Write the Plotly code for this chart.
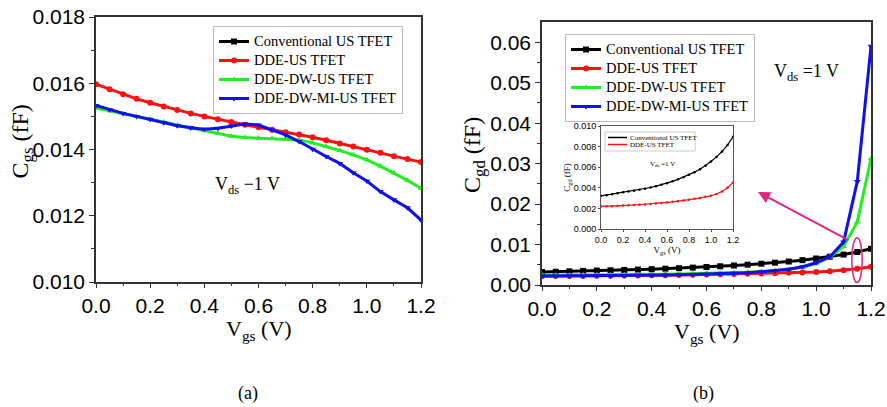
import plotly.graph_objects as go

# ---------------- data ----------------
vgs = [round(0.05 * i, 2) for i in range(25)]

names = ["Conventional US TFET", "DDE-US TFET", "DDE-DW-US TFET", "DDE-DW-MI-US TFET"]

# Panel (a): Cgs (fF)
cgs_dde = [0.01597, 0.01582, 0.01567, 0.01553, 0.01541, 0.01530, 0.01519, 0.01509, 0.01500,
           0.01491, 0.01483, 0.01475, 0.01467, 0.01460, 0.01452, 0.01445, 0.01437, 0.01428,
           0.01418, 0.01409, 0.01399, 0.01390, 0.01380, 0.01371, 0.01362]
cgs_ddedw = [0.01525, 0.01517, 0.01509, 0.01500, 0.01492, 0.01483, 0.01474, 0.01465, 0.01457,
             0.01448, 0.01440, 0.01436, 0.01434, 0.01433, 0.01432, 0.01429, 0.01420, 0.01409,
             0.01397, 0.01384, 0.01369, 0.01350, 0.01329, 0.01307, 0.01282]
cgs_ddedwmi = [0.01533, 0.01520, 0.01509, 0.01500, 0.01491, 0.01481, 0.01472, 0.01466, 0.01461,
               0.01464, 0.01471, 0.01477, 0.01474, 0.01460, 0.01444, 0.01424, 0.01401, 0.01379,
               0.01358, 0.01330, 0.01305, 0.01273, 0.01248, 0.01224, 0.01187]

# Panel (b): Cgd (fF)
cgd_conv = [0.00322, 0.00328, 0.00338, 0.00348, 0.00357, 0.00364, 0.00372, 0.00381, 0.00391,
            0.00403, 0.00416, 0.00430, 0.00445, 0.00463, 0.00482, 0.00503, 0.00526, 0.00552,
            0.00580, 0.00614, 0.00655, 0.00700, 0.00752, 0.00815, 0.00895]
cgd_dde = [0.00219, 0.00220, 0.00222, 0.00224, 0.00227, 0.00230, 0.00233, 0.00236, 0.00239,
           0.00243, 0.00247, 0.00252, 0.00258, 0.00264, 0.00270, 0.00277, 0.00285, 0.00293,
           0.00302, 0.00312, 0.00323, 0.00340, 0.00365, 0.00400, 0.00452]
cgd_ddedw = [0.00240, 0.00241, 0.00243, 0.00245, 0.00247, 0.00250, 0.00253, 0.00256, 0.00260,
             0.00264, 0.00269, 0.00275, 0.00282, 0.00291, 0.00302, 0.00316, 0.00334, 0.00357,
             0.00389, 0.00440, 0.00530, 0.00690, 0.00950, 0.01560, 0.03120]
cgd_ddedwmi = [0.00220, 0.00221, 0.00223, 0.00225, 0.00228, 0.00231, 0.00234, 0.00238, 0.00242,
               0.00247, 0.00253, 0.00260, 0.00268, 0.00278, 0.00290, 0.00305, 0.00325, 0.00352,
               0.00390, 0.00450, 0.00550, 0.00700, 0.01060, 0.02560, 0.05900]

colors = ["#000000", "#ff1010", "#22ee22", "#1010ee"]
symbols = ["square", "circle", "triangle-up", "triangle-down"]

SERIF = "Liberation Serif, Times New Roman, serif"
SANS = "Liberation Sans, Arial, sans-serif"

def legend_name(n):
    return ('<span style="font-size:14.5px;font-family:Liberation Serif,Times New Roman,serif">'
            + n + '</span>')

fig = go.Figure()

# ---- panel (a) ----
series_a = [None, cgs_dde, cgs_ddedw, cgs_ddedwmi]
for i, ys in enumerate(series_a):
    fig.add_trace(go.Scatter(
        x=vgs if ys is not None else [None], y=ys if ys is not None else [None],
        mode="lines+markers", name=legend_name(names[i]),
        line=dict(color=colors[i], width=3),
        marker=dict(symbol=symbols[i], size=6, color=colors[i]),
        xaxis="x", yaxis="y", legend="legend"))

# ---- panel (b) ----
series_b = [cgd_conv, cgd_dde, cgd_ddedw, cgd_ddedwmi]
for i, ys in enumerate(series_b):
    fig.add_trace(go.Scatter(
        x=vgs, y=ys, mode="lines+markers", name=legend_name(names[i]),
        line=dict(color=colors[i], width=3),
        marker=dict(symbol=symbols[i], size=6, color=colors[i]),
        xaxis="x2", yaxis="y2", legend="legend2"))

# ---- inset ----
for i, ys in enumerate(series_b[:2]):
    fig.add_trace(go.Scatter(
        x=vgs, y=ys, mode="lines+markers", name=names[i], showlegend=False,
        line=dict(color=colors[i], width=1.2),
        marker=dict(symbol="circle", size=2.5, color=colors[i]),
        xaxis="x3", yaxis="y3"))

W, H = 887, 407
def px(x): return x / W
def py(y): return 1 - y / H

axis_common = dict(showline=True, linecolor="#333", linewidth=1.5, mirror=True,
                   ticks="outside", ticklen=5, tickwidth=1.2, tickcolor="#333",
                   showgrid=False, zeroline=False, automargin=False,
                   tickfont=dict(family=SANS, size=21, color="#000"))

fig.update_layout(
    width=W, height=H, margin=dict(l=0, r=0, t=0, b=0),
    paper_bgcolor="white", plot_bgcolor="white", showlegend=True,
    xaxis=dict(axis_common, domain=[px(96), px(421)], range=[0, 1.2], dtick=0.2,
               tickformat=".1f", anchor="y", ticklen=4,
               minor=dict(ticks="outside", ticklen=2, dtick=0.1, tickcolor="#333")),
    yaxis=dict(axis_common, domain=[py(282), py(17)], range=[0.010, 0.018], dtick=0.002,
               tickformat=".3f", anchor="x",
               minor=dict(ticks="outside", ticklen=3, dtick=0.001, tickcolor="#333")),
    xaxis2=dict(axis_common, domain=[px(542), px(871)], range=[0, 1.2], dtick=0.2,
                tickformat=".1f", anchor="y2", ticklen=4,
                minor=dict(ticks="outside", ticklen=2, dtick=0.1, tickcolor="#333")),
    yaxis2=dict(axis_common, domain=[py(285), py(22)], range=[0, 0.065],
                tickvals=[0, 0.01, 0.02, 0.03, 0.04, 0.05, 0.06],
                tickformat=".2f", anchor="x2",
                minor=dict(ticks="outside", ticklen=3, tickvals=[0.005, 0.015, 0.025, 0.035, 0.045, 0.055],
                           tickcolor="#333")),
    xaxis3=dict(showline=True, linecolor="#555", linewidth=1, mirror=True, ticks="outside",
                ticklen=2, showgrid=False, zeroline=False, automargin=False,
                domain=[px(601), px(733)],
                range=[0, 1.2], dtick=0.2, tickformat=".1f", anchor="y3",
                tickfont=dict(family=SANS, size=9, color="#000"),
                title=dict(text="V<sub>gs</sub> (V)", font=dict(family=SERIF, size=9, color="#000"), standoff=1)),
    yaxis3=dict(showline=True, linecolor="#555", linewidth=1, mirror=True, ticks="outside",
                ticklen=2, showgrid=False, zeroline=False, automargin=False,
                domain=[py(229), py(126)],
                range=[0, 0.010], dtick=0.002, tickformat=".3f", anchor="x3",
                tickfont=dict(family=SANS, size=9, color="#000"),
                title=dict(text="C<sub>gd</sub> (fF)", font=dict(family=SERIF, size=9, color="#000"), standoff=1)),
    legend=dict(x=px(213), y=py(26), xanchor="left", yanchor="top",
                bgcolor="white", bordercolor="#bbb", borderwidth=1,
                font=dict(family=SERIF, size=11.5, color="#000"), tracegroupgap=0,
                itemwidth=30),
    legend2=dict(x=px(565), y=py(34), xanchor="left", yanchor="top",
                 bgcolor="white", bordercolor="#bbb", borderwidth=1,
                 font=dict(family=SERIF, size=11.5, color="#000"), tracegroupgap=0,
                 itemwidth=30),
)

# axis titles of the main panels (placed precisely)
title_font = dict(family=SERIF, size=22, color="#000")
fig.add_annotation(x=px(258.5), y=py(314), xref="paper", yref="paper", text="V<sub>gs</sub> (V)",
                   showarrow=False, xanchor="center", yanchor="top", font=title_font)
fig.add_annotation(x=px(706.5), y=py(317), xref="paper", yref="paper", text="V<sub>gs</sub> (V)",
                   showarrow=False, xanchor="center", yanchor="top", font=title_font)
fig.add_annotation(x=px(22), y=py(141.5), xref="paper", yref="paper", text="C<sub>gs</sub> (fF)",
                   showarrow=False, xanchor="center", yanchor="middle", textangle=-90,
                   font=dict(family=SERIF, size=24, color="#000"))
fig.add_annotation(x=px(474), y=py(155), xref="paper", yref="paper", text="C<sub>gd</sub> (fF)",
                   showarrow=False, xanchor="center", yanchor="middle", textangle=-90,
                   font=dict(family=SERIF, size=24, color="#000"))

# inset legend (drawn as decoration)
fig.add_shape(type="rect", xref="paper", yref="paper", x0=px(605), x1=px(695), y0=py(151), y1=py(132),
              line=dict(color="#ccc", width=1), fillcolor="white", layer="above")
inset_leg_y = [137.5, 144.5]
for i in range(2):
    fig.add_shape(type="line", xref="paper", yref="paper", x0=px(608), x1=px(627),
                  y0=py(inset_leg_y[i]), y1=py(inset_leg_y[i]),
                  line=dict(color=colors[i], width=1.5), layer="above")
    fig.add_annotation(x=px(628), y=py(inset_leg_y[i]), xref="paper", yref="paper",
                       text=names[i], showarrow=False, xanchor="left", yanchor="middle",
                       font=dict(family=SERIF, size=7, color="#000"))

# annotations
fig.add_annotation(x=0.561, y=0.0129, xref="x", yref="y", text="V<sub>ds</sub> −1 V",
                   showarrow=False, font=dict(family=SERIF, size=18, color="#000"))
fig.add_annotation(x=0.966, y=0.0526, xref="x2", yref="y2", text="V<sub>ds</sub> =1 V",
                   showarrow=False, font=dict(family=SERIF, size=18, color="#000"))
fig.add_annotation(x=0.556, y=0.0063, xref="x3", yref="y3", text="V<sub>ds</sub> =1 V",
                   showarrow=False, font=dict(family=SERIF, size=7, color="#000"))
# arrow from ellipse to inset
fig.add_annotation(x=0.788, y=0.0230, xref="x2", yref="y2",
                   ax=1.123, ay=0.0109, axref="x2", ayref="y2", text="",
                   showarrow=True, arrowhead=2, arrowsize=1.2, arrowwidth=2, arrowcolor="#e0267f")
fig.add_shape(type="circle", xref="x2", yref="y2", x0=1.13, x1=1.168, y0=0.0006, y1=0.0117,
              line=dict(color="#e0267f", width=1.5))
# captions
fig.add_annotation(x=px(248), y=py(393), xref="paper", yref="paper", text="(a)",
                   showarrow=False, xanchor="center", yanchor="middle",
                   font=dict(family=SERIF, size=18, color="#000"))
fig.add_annotation(x=px(703), y=py(393), xref="paper", yref="paper", text="(b)",
                   showarrow=False, xanchor="center", yanchor="middle",
                   font=dict(family=SERIF, size=18, color="#000"))

fig.write_html("out.html")
